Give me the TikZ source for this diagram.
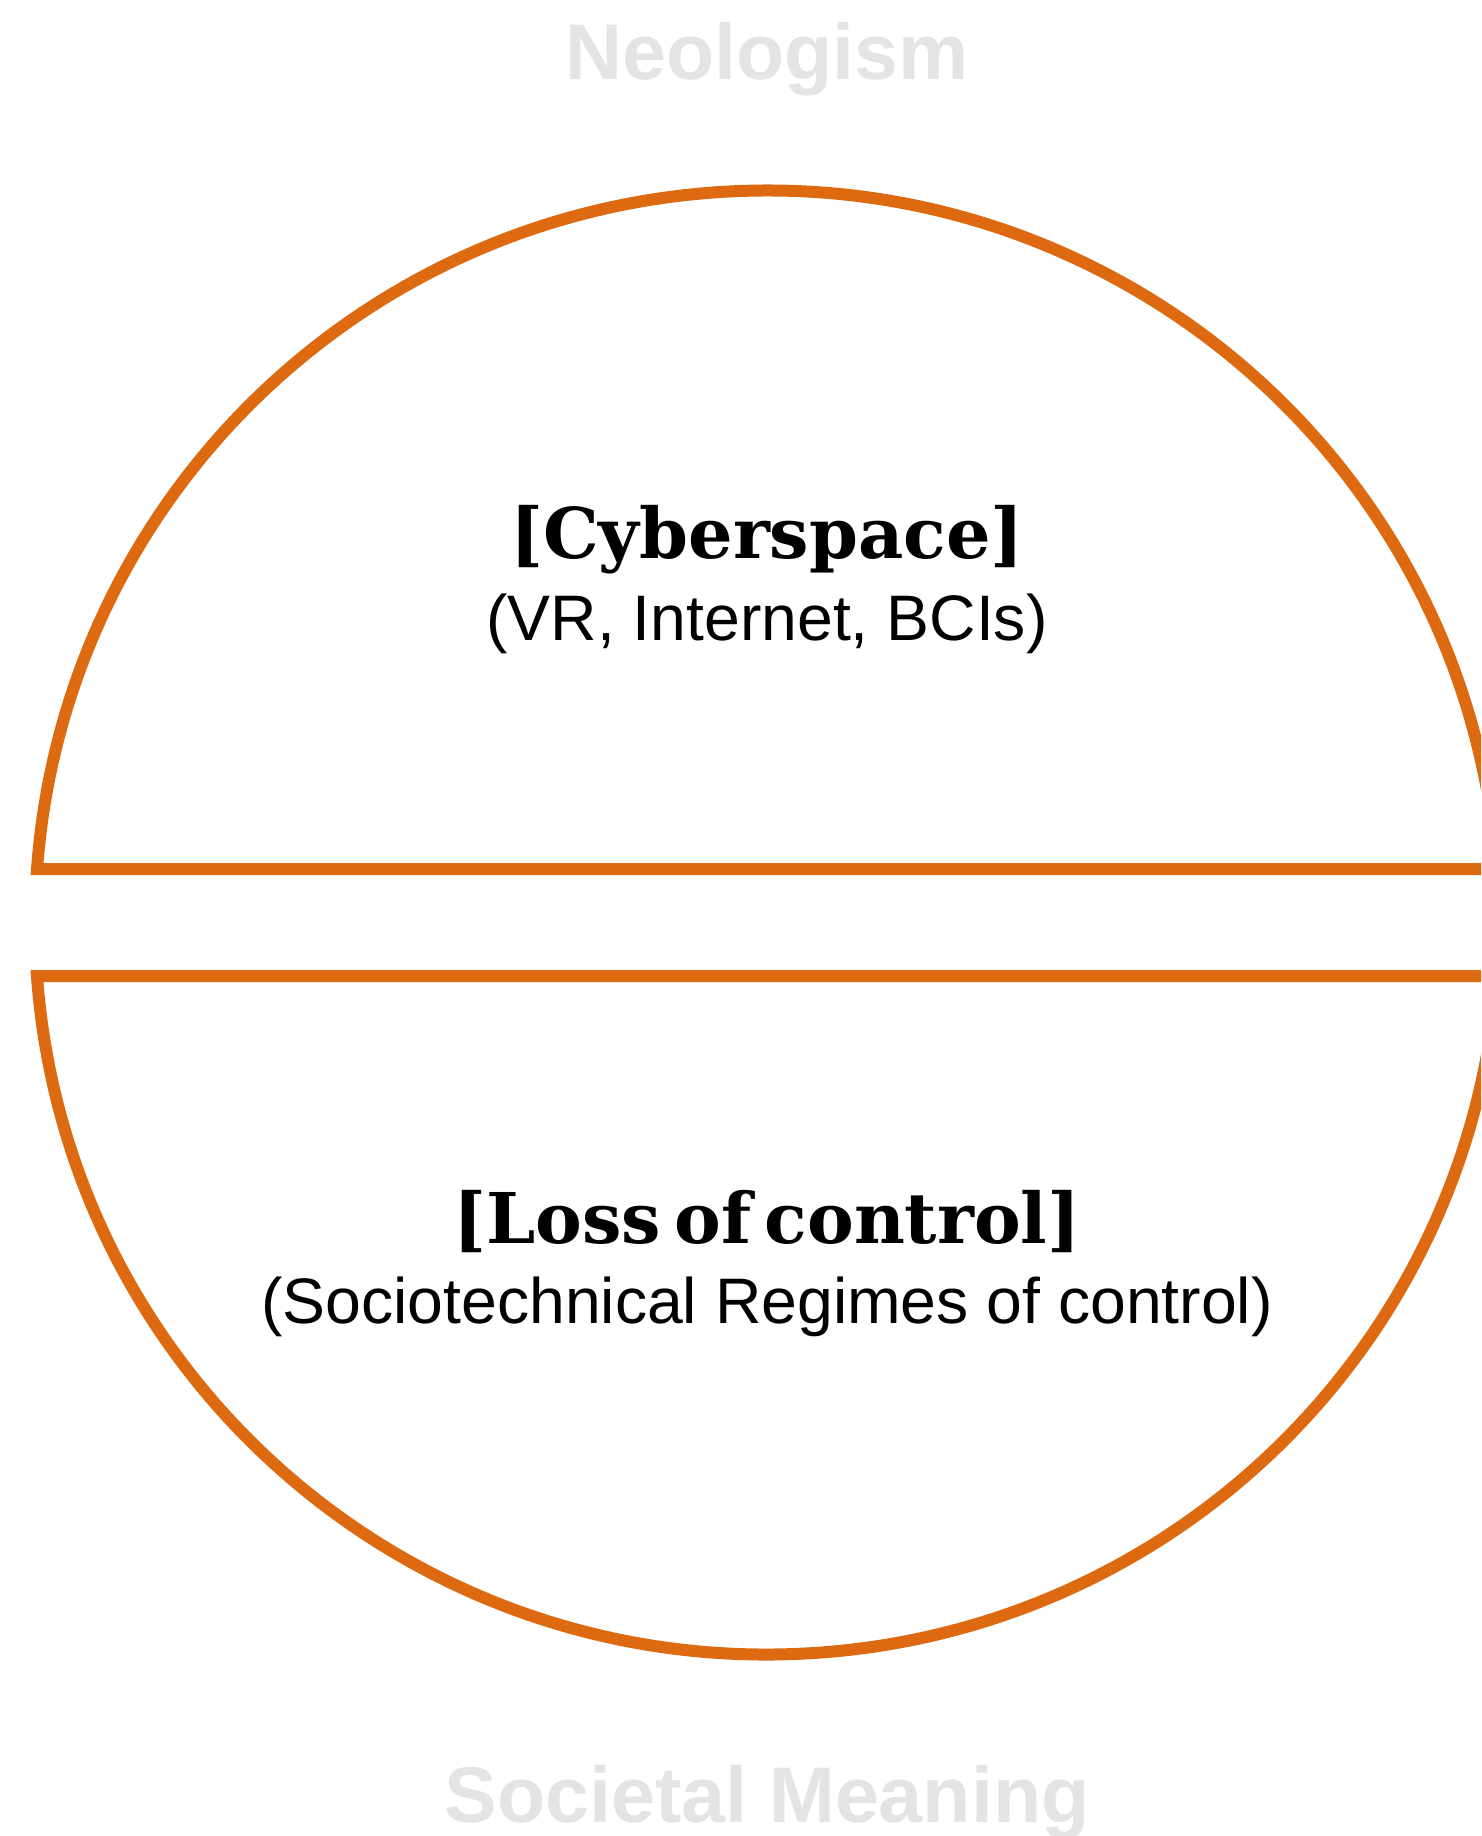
\documentclass[tikz,border=0pt]{standalone}
\usepackage{fontspec}
\setmainfont{Liberation Sans}
\newfontfamily\slabfont[WordSpace=0.55]{DejaVu Serif}
\definecolor{ringorange}{RGB}{221,106,17}
\definecolor{labelgray}{RGB}{228,228,228}
\tikzset{
  half/.style={draw=ringorange, line width=12pt, line join=miter},
  heading/.style={anchor=base, inner sep=0pt, text=labelgray, font=\fontsize{79}{90}\selectfont\bfseries},
  slabtitle/.style={anchor=base, inner sep=0pt, font=\slabfont\fontsize{70}{80}\selectfont\bfseries},
  subtitle/.style={anchor=base, inner sep=0pt, font=\fontsize{64.3}{74}\selectfont},
}
\begin{document}
\begin{tikzpicture}[x=1pt,y=1pt]
\useasboundingbox (0,0) rectangle (1481,-1836);
\clip (0,0) rectangle (1481,-1836);
% upper half
\draw[half] (1497.04,-869) arc[start angle=4.19, end angle=175.81, radius=732] -- cycle;
% lower half
\draw[half] (36.96,-976) arc[start angle=184.19, end angle=355.81, radius=732] -- cycle;
\node[heading] (neo) at (767,-80) {Neologism};
\node[heading] (soc) at (767,-1822) {Societal Meaning};
\node[slabtitle] (cyb) at (767,-558) {[Cyberspace]};
\node[subtitle] (cybsub) at (767,-640) {(VR, Internet, BCIs)};
\node[slabtitle] (loss) at (767,-1243) {[Loss of control]};
\node[subtitle] (losssub) at (767,-1323) {(Sociotechnical Regimes of control)};
\end{tikzpicture}
\end{document}
